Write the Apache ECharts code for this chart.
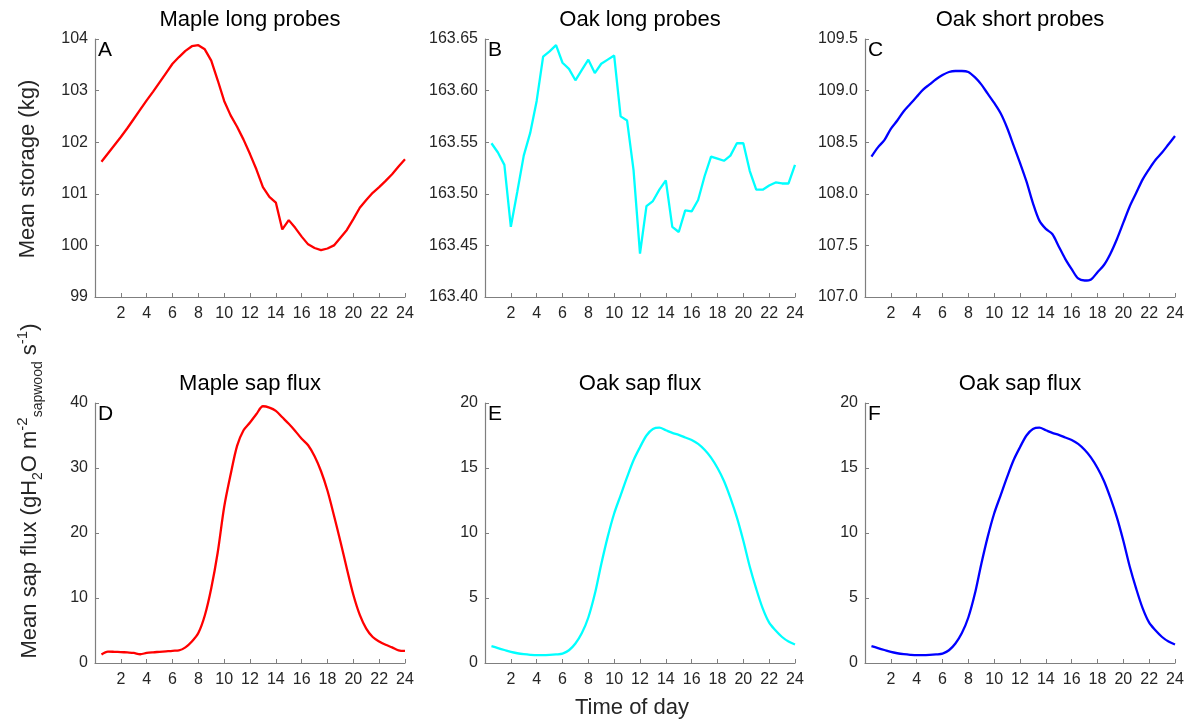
<!DOCTYPE html>
<html>
<head>
<meta charset="utf-8">
<title>Storage and sap flux</title>
<script src="https://cdn.jsdelivr.net/npm/echarts@6/dist/echarts.min.js"></script>
<style>
  html, body { margin: 0; padding: 0; background: #fff; }
  #main { width: 1188px; height: 727px; }
</style>
</head>
<body>
<div id="main"></div>
<script>
// time of day, half-hour steps
const hours = [0.5, 1, 1.5, 2, 2.5, 3, 3.5, 4, 4.5, 5, 5.5, 6, 6.5, 7, 7.5, 8,
  8.5, 9, 9.5, 10, 10.5, 11, 11.5, 12, 12.5, 13, 13.5, 14, 14.5, 15, 15.5, 16,
  16.5, 17, 17.5, 18, 18.5, 19, 19.5, 20, 20.5, 21, 21.5, 22, 22.5, 23, 23.5, 24];

// A - maple long probes, mean storage (kg)
const mapleStorage = [101.62, 101.78, 101.94, 102.10, 102.27, 102.45, 102.63, 102.81,
  102.98, 103.16, 103.34, 103.52, 103.65, 103.77, 103.86, 103.88, 103.80, 103.58,
  103.20, 102.80, 102.52, 102.30, 102.05, 101.77, 101.47, 101.13, 100.94, 100.83,
  100.31, 100.49, 100.34, 100.17, 100.02, 99.95, 99.91, 99.94, 100.00, 100.15,
  100.30, 100.51, 100.73, 100.88, 101.02, 101.13, 101.25, 101.38, 101.53, 101.67];

// B - oak long probes
const oakLongStorage = [163.549, 163.540, 163.528, 163.468, 163.502, 163.537, 163.559, 163.590,
  163.633, 163.638, 163.644, 163.627, 163.621, 163.610, 163.620, 163.630, 163.617, 163.626,
  163.630, 163.634, 163.575, 163.571, 163.523, 163.442, 163.488, 163.493, 163.504, 163.513,
  163.468, 163.463, 163.484, 163.483, 163.494, 163.517, 163.536, 163.534, 163.532, 163.537,
  163.549, 163.549, 163.522, 163.504, 163.504, 163.508, 163.511, 163.510, 163.510, 163.528];

// C - oak short probes
const oakShortStorage = [108.36, 108.45, 108.52, 108.63, 108.71, 108.80, 108.87, 108.94,
  109.01, 109.06, 109.11, 109.15, 109.18, 109.19, 109.19, 109.18, 109.13, 109.06,
  108.97, 108.88, 108.78, 108.64, 108.47, 108.30, 108.12, 107.91, 107.74, 107.66,
  107.61, 107.49, 107.37, 107.27, 107.18, 107.16, 107.17, 107.24, 107.31, 107.42,
  107.56, 107.72, 107.88, 108.01, 108.14, 108.24, 108.33, 108.40, 108.48, 108.56];

// D - maple sap flux
const mapleFlux = [1.3, 1.75, 1.72, 1.68, 1.62, 1.55, 1.35, 1.55, 1.65, 1.72, 1.8, 1.88,
  1.93, 2.4, 3.3, 4.6, 7.3, 11.5, 17.0, 24.0, 29.0, 33.4, 35.8, 37.0,
  38.3, 39.5, 39.3, 38.8, 37.8, 36.8, 35.7, 34.5, 33.5, 31.8, 29.5, 26.5,
  22.7, 18.7, 14.5, 10.5, 7.4, 5.3, 4.0, 3.3, 2.8, 2.4, 1.95, 1.85];

// E - oak sap flux (long probes)
const oakLongFlux = [1.3, 1.15, 1.0, 0.85, 0.75, 0.68, 0.63, 0.6, 0.6, 0.62, 0.66, 0.72,
  0.98, 1.5, 2.3, 3.5, 5.3, 7.6, 9.7, 11.5, 12.9, 14.3, 15.6, 16.6,
  17.5, 18.0, 18.1, 17.9, 17.7, 17.55, 17.35, 17.15, 16.85, 16.4, 15.8, 15.0,
  14.0, 12.7, 11.2, 9.4, 7.4, 5.7, 4.2, 3.1, 2.5, 2.0, 1.65, 1.42];

// F - oak sap flux (short probes)
const oakShortFlux = [1.3, 1.15, 1.0, 0.85, 0.75, 0.68, 0.63, 0.6, 0.6, 0.62, 0.66, 0.72,
  0.98, 1.5, 2.3, 3.5, 5.3, 7.6, 9.7, 11.5, 12.9, 14.3, 15.6, 16.6,
  17.5, 18.0, 18.1, 17.9, 17.7, 17.55, 17.35, 17.15, 16.85, 16.4, 15.8, 15.0,
  14.0, 12.7, 11.2, 9.4, 7.4, 5.7, 4.2, 3.1, 2.5, 2.0, 1.65, 1.42];

const FONT = 'Liberation Sans, Arial, sans-serif';
const AXIS_COLOR = '#7f7f7f';
const LABEL_COLOR = '#262626';

const panels = [
  { title: 'Maple long probes', letter: 'A', data: mapleStorage, color: '#ff0000', min: 99, max: 104, interval: 1, digits: 0, left: 95, top: 39, height: 258, smooth: false },
  { title: 'Oak long probes', letter: 'B', data: oakLongStorage, color: '#00ffff', min: 163.40, max: 163.65, interval: 0.05, digits: 2, left: 485, top: 39, height: 258, smooth: false },
  { title: 'Oak short probes', letter: 'C', data: oakShortStorage, color: '#0000ff', min: 107.0, max: 109.5, interval: 0.5, digits: 1, left: 865, top: 39, height: 258, smooth: 0.3 },
  { title: 'Maple sap flux', letter: 'D', data: mapleFlux, color: '#ff0000', min: 0, max: 40, interval: 10, digits: 0, left: 95, top: 403, height: 260, smooth: 0.3 },
  { title: 'Oak sap flux', letter: 'E', data: oakLongFlux, color: '#00ffff', min: 0, max: 20, interval: 5, digits: 0, left: 485, top: 403, height: 260, smooth: 0.3 },
  { title: 'Oak sap flux', letter: 'F', data: oakShortFlux, color: '#0000ff', min: 0, max: 20, interval: 5, digits: 0, left: 865, top: 403, height: 260, smooth: 0.3 }
];
const PANEL_W = 310;

const chart = echarts.init(document.getElementById('main'), null, { renderer: 'canvas' });

const option = {
  backgroundColor: '#fff',
  animation: false,
  textStyle: { fontFamily: FONT },
  title: panels.map(p => ({
    text: p.title,
    left: p.left + PANEL_W / 2,
    top: p.top - 30,
    padding: 0,
    textAlign: 'center',
    textStyle: { fontFamily: FONT, fontSize: 22, fontWeight: 'normal', color: '#000' }
  })),
  grid: panels.map(p => ({
    left: p.left, top: p.top, width: PANEL_W, height: p.height,
    containLabel: false, outerBoundsMode: 'none'
  })),
  xAxis: panels.map((p, i) => ({
    type: 'value', gridIndex: i, min: 0, max: 24, interval: 2,
    axisLine: { show: true, lineStyle: { color: AXIS_COLOR, width: 1.2 } },
    axisTick: { show: true, inside: true, length: 4, lineStyle: { color: AXIS_COLOR } },
    axisLabel: {
      color: LABEL_COLOR, fontSize: 16, fontFamily: FONT, margin: 9,
      formatter: v => (v === 0 ? '' : String(v))
    },
    splitLine: { show: false }
  })),
  yAxis: panels.map((p, i) => ({
    type: 'value', gridIndex: i, min: p.min, max: p.max, interval: p.interval,
    axisLine: { show: true, lineStyle: { color: AXIS_COLOR, width: 1.2 } },
    axisTick: { show: true, inside: true, length: 4, lineStyle: { color: AXIS_COLOR } },
    axisLabel: {
      color: LABEL_COLOR, fontSize: 16, fontFamily: FONT, margin: 7,
      formatter: v => v.toFixed(p.digits)
    },
    splitLine: { show: false }
  })),
  series: panels.map((p, i) => ({
    type: 'line', xAxisIndex: i, yAxisIndex: i,
    data: hours.map((h, k) => [h, p.data[k]]),
    showSymbol: false, smooth: p.smooth,
    lineStyle: { color: p.color, width: 2.3 },
    itemStyle: { color: p.color }
  })),
  graphic: [
    ...panels.map(p => ({
      type: 'text', left: p.left + 3, top: p.top + 1,
      style: { text: p.letter, fontSize: 21, fontFamily: FONT, fill: '#000' }
    })),
    {
      type: 'text', x: 28, y: 169, rotation: Math.PI / 2,
      style: {
        text: 'Mean storage (kg)', fontSize: 22, fontFamily: FONT, fill: LABEL_COLOR,
        align: 'center', verticalAlign: 'middle'
      }
    },
    {
      type: 'text', x: 30, y: 491, rotation: Math.PI / 2,
      style: {
        text: '{m|Mean sap flux (gH}{sub|2}{m|O m}{sup|-2}{sub|sapwood}{m| s}{sup|-1}{m|)}',
        align: 'center', verticalAlign: 'middle', fill: LABEL_COLOR, fontFamily: FONT,
        rich: {
          m: { fontSize: 22, lineHeight: 30, fontFamily: FONT, fill: LABEL_COLOR, verticalAlign: 'middle' },
          sub: { fontSize: 14, lineHeight: 14, fontFamily: FONT, fill: LABEL_COLOR, verticalAlign: 'bottom' },
          sup: { fontSize: 15, lineHeight: 14, fontFamily: FONT, fill: LABEL_COLOR, verticalAlign: 'top' }
        }
      }
    },
    {
      type: 'text', x: 632, y: 708,
      style: {
        text: 'Time of day', fontSize: 22, fontFamily: FONT, fill: LABEL_COLOR,
        align: 'center', verticalAlign: 'middle'
      }
    }
  ]
};

chart.setOption(option);
</script>
</body>
</html>
